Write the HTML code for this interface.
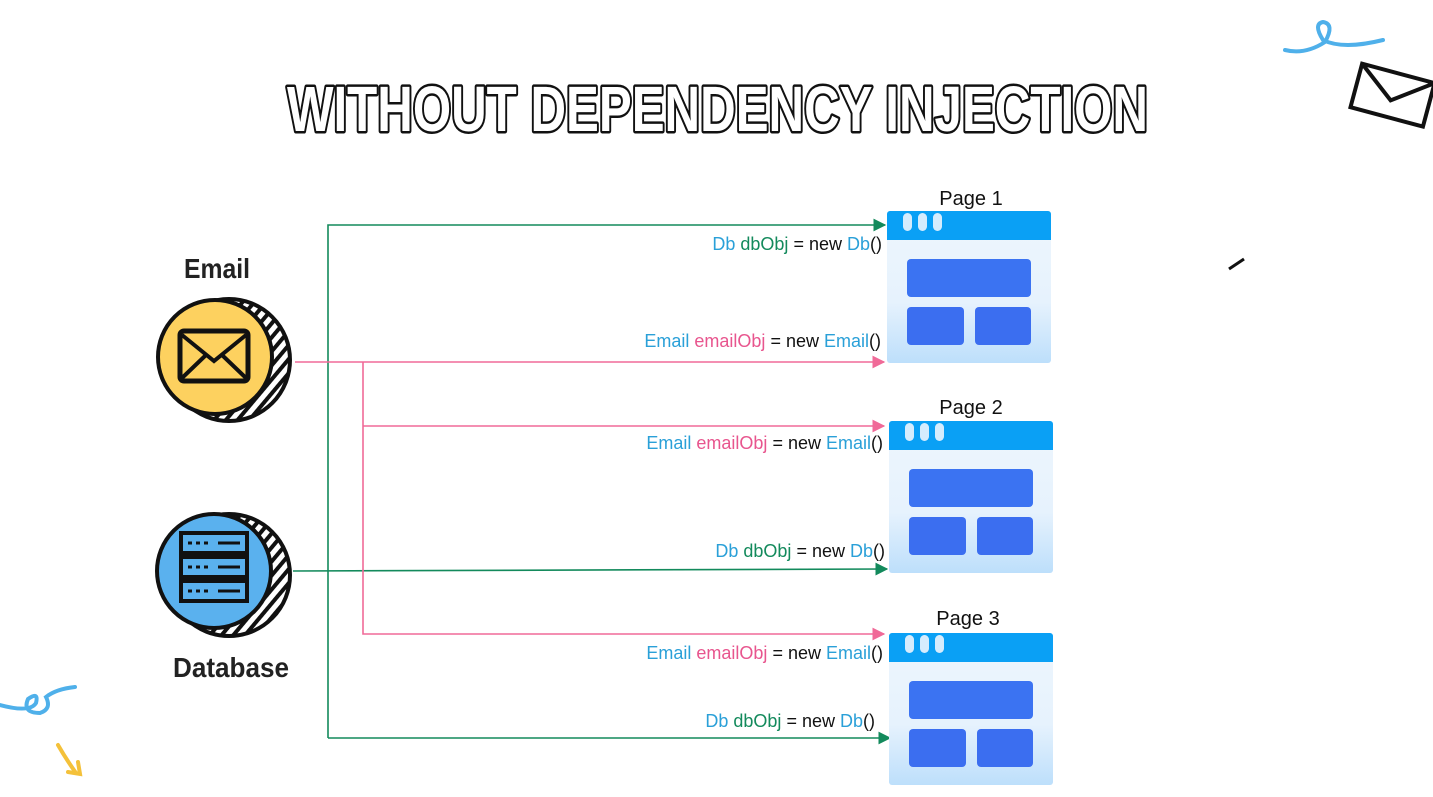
<!DOCTYPE html>
<html><head><meta charset="utf-8"><style>
html,body{margin:0;padding:0;background:#fff;}
svg{display:block;font-family:"Liberation Sans",sans-serif;}
</style></head><body>
<svg width="1433" height="797" viewBox="0 0 1433 797">
<defs>
<linearGradient id="pg" x1="0" y1="0" x2="0" y2="1"><stop offset="0" stop-color="#eef6fd"/><stop offset="0.6" stop-color="#e6f2fd"/><stop offset="1" stop-color="#bddffb"/></linearGradient>
<marker id="ag" viewBox="0 0 10 10" refX="9" refY="5" markerWidth="8" markerHeight="8" orient="auto"><path d="M0,0L10,5L0,10z" fill="#138a5c"/></marker>
<marker id="ap" viewBox="0 0 10 10" refX="9" refY="5" markerWidth="8" markerHeight="8" orient="auto"><path d="M0,0L10,5L0,10z" fill="#f06a98"/></marker>
<pattern id="hatch" width="9" height="9" patternUnits="userSpaceOnUse" patternTransform="rotate(40)"><rect width="9" height="9" fill="#fff"/><rect width="4" height="9" fill="#111"/></pattern>
<g id="page">
<rect x="0" y="0" width="164" height="152" rx="3" fill="url(#pg)"/>
<path d="M0,3 a3,3 0 0 1 3,-3 h158 a3,3 0 0 1 3,3 v26 h-164z" fill="#0aa0f5"/>
<rect x="16" y="2" width="9" height="18" rx="4.5" fill="#d6ecfd"/>
<rect x="31" y="2" width="9" height="18" rx="4.5" fill="#d6ecfd"/>
<rect x="46" y="2" width="9" height="18" rx="4.5" fill="#d6ecfd"/>
<rect x="20" y="48" width="124" height="38" rx="4" fill="#3b73f2"/>
<rect x="20" y="96" width="57" height="38" rx="4" fill="#3b6ef0"/>
<rect x="88" y="96" width="56" height="38" rx="4" fill="#3b6ef0"/>
</g>
</defs>

<text x="287" y="131" font-size="64" font-weight="bold" fill="#fff" stroke="#111" stroke-width="5" paint-order="stroke" stroke-linejoin="round" textLength="861" lengthAdjust="spacingAndGlyphs">WITHOUT DEPENDENCY INJECTION</text>

<path d="M1285,50 q20,5 40,-8 q10,-18 -2,-20 q-10,2 0,18 q20,10 60,0" fill="none" stroke="#4fb0ea" stroke-width="4" stroke-linecap="round"/>
<g transform="rotate(15 1390 95)"><rect x="1355" y="72" width="75" height="45" fill="#fff" stroke="#111" stroke-width="4"/><path d="M1355,72 L1392,100 L1430,72" fill="none" stroke="#111" stroke-width="4"/></g>
<path d="M1229,269 L1244,259" stroke="#111" stroke-width="3"/>
<path d="M0,705 q30,8 36,-2 q3,-12 -8,-4 q-6,14 12,14 q12,-4 6,-16 q10,-8 29,-10" fill="none" stroke="#4fb0ea" stroke-width="4" stroke-linecap="round"/>
<path d="M58,745 q8,14 18,28 M68,772 l12,2 l-2,-12" fill="none" stroke="#f4c13a" stroke-width="4" stroke-linecap="round"/>

<g fill="none" stroke-width="1.6">
<path d="M328,738 V225 H885" stroke="#138a5c" marker-end="url(#ag)"/>
<path d="M328,738 H890" stroke="#138a5c" marker-end="url(#ag)"/>
<path d="M293,571 L887,569" stroke="#138a5c" marker-end="url(#ag)"/>
<path d="M295,362 H884" stroke="#f06a98" marker-end="url(#ap)"/>
<path d="M363,362 V634 H884" stroke="#f06a98" marker-end="url(#ap)"/>
<path d="M363,426 H884" stroke="#f06a98" marker-end="url(#ap)"/>
</g>

<g>
<circle cx="229" cy="360" r="61" fill="url(#hatch)" stroke="#111" stroke-width="4"/>
<circle cx="215" cy="357" r="57" fill="#fdd15f" stroke="#111" stroke-width="4"/>
<rect x="180" y="331" width="68" height="50" rx="4" fill="none" stroke="#111" stroke-width="5"/>
<path d="M182,335 L214,361 L246,335 M182,378 L206,355 M246,378 L222,355" fill="none" stroke="#111" stroke-width="4"/>
</g>
<text x="217" y="278" font-size="28" font-weight="bold" text-anchor="middle" fill="#222" textLength="66" lengthAdjust="spacingAndGlyphs">Email</text>

<g>
<circle cx="229" cy="575" r="61" fill="url(#hatch)" stroke="#111" stroke-width="4"/>
<circle cx="214" cy="571" r="57" fill="#5ab1ee" stroke="#111" stroke-width="4"/>
<g fill="none" stroke="#111" stroke-width="4">
<rect x="181" y="533" width="66" height="20"/><rect x="181" y="557" width="66" height="20"/><rect x="181" y="581" width="66" height="20"/>
</g>
<g stroke="#111" stroke-width="3"><path d="M188,543h4M196,543h4M204,543h4M218,543h22M188,567h4M196,567h4M204,567h4M218,567h22M188,591h4M196,591h4M204,591h4M218,591h22"/></g>
</g>
<text x="231" y="677" font-size="28" font-weight="bold" text-anchor="middle" fill="#222" textLength="116" lengthAdjust="spacingAndGlyphs">Database</text>

<use href="#page" x="887" y="211"/>
<use href="#page" x="889" y="421"/>
<use href="#page" x="889" y="633"/>
<text x="971" y="205" font-size="20" text-anchor="middle" fill="#111">Page 1</text>
<text x="971" y="414" font-size="20" text-anchor="middle" fill="#111">Page 2</text>
<text x="968" y="625" font-size="20" text-anchor="middle" fill="#111">Page 3</text>

<g font-size="18" text-anchor="end">
<text x="882" y="250"><tspan fill="#2aa0d8">Db</tspan> <tspan fill="#138a5c">dbObj</tspan><tspan fill="#111"> = new </tspan><tspan fill="#2aa0d8">Db</tspan><tspan fill="#111">()</tspan></text>
<text x="881" y="347"><tspan fill="#2aa0d8">Email</tspan> <tspan fill="#e8558e">emailObj</tspan><tspan fill="#111"> = new </tspan><tspan fill="#2aa0d8">Email</tspan><tspan fill="#111">()</tspan></text>
<text x="883" y="449"><tspan fill="#2aa0d8">Email</tspan> <tspan fill="#e8558e">emailObj</tspan><tspan fill="#111"> = new </tspan><tspan fill="#2aa0d8">Email</tspan><tspan fill="#111">()</tspan></text>
<text x="885" y="557"><tspan fill="#2aa0d8">Db</tspan> <tspan fill="#138a5c">dbObj</tspan><tspan fill="#111"> = new </tspan><tspan fill="#2aa0d8">Db</tspan><tspan fill="#111">()</tspan></text>
<text x="883" y="659"><tspan fill="#2aa0d8">Email</tspan> <tspan fill="#e8558e">emailObj</tspan><tspan fill="#111"> = new </tspan><tspan fill="#2aa0d8">Email</tspan><tspan fill="#111">()</tspan></text>
<text x="875" y="727"><tspan fill="#2aa0d8">Db</tspan> <tspan fill="#138a5c">dbObj</tspan><tspan fill="#111"> = new </tspan><tspan fill="#2aa0d8">Db</tspan><tspan fill="#111">()</tspan></text>
</g>
</svg>
</body></html>
